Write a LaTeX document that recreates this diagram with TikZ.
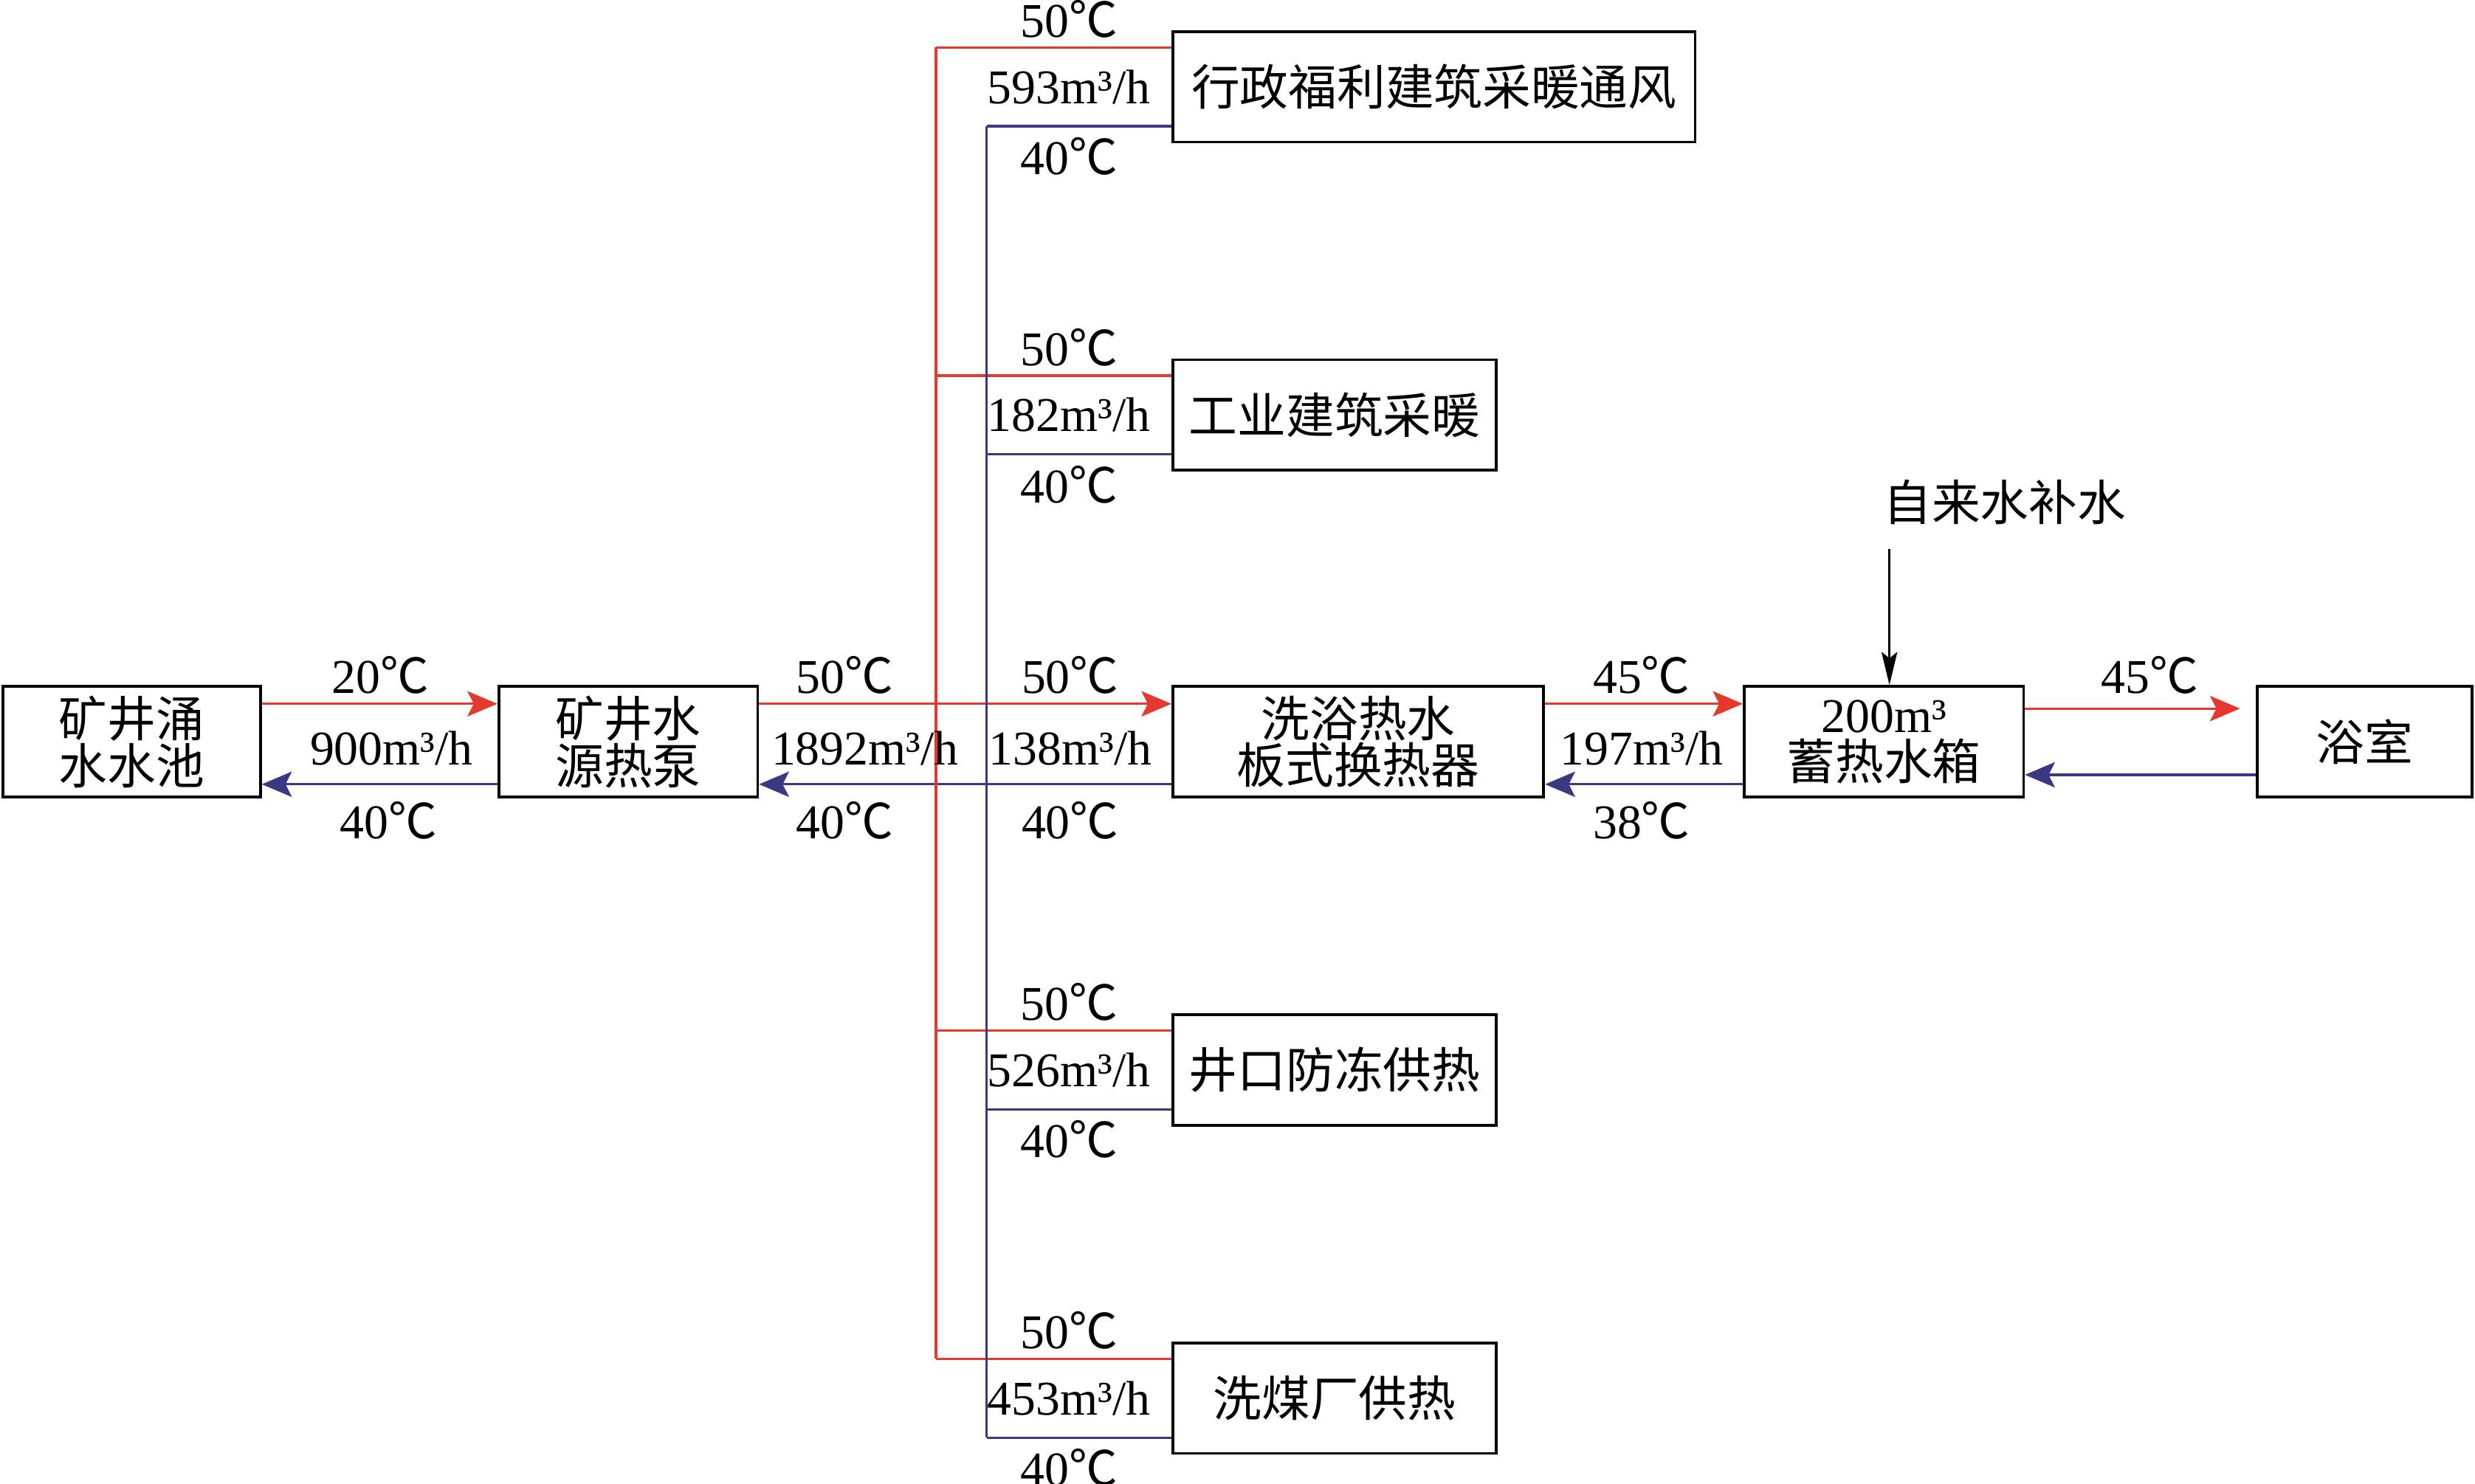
\documentclass[tikz,border=0pt]{standalone}
\usepackage{fontspec}
\setmainfont{Liberation Serif}
\newfontfamily\cjk{Noto Sans CJK SC}
\usetikzlibrary{arrows.meta}
\definecolor{hotred}{RGB}{229,57,47}
\definecolor{coldblue}{RGB}{58,56,128}
\newcommand{\degc}{{\cjk ℃}}

\begin{document}
\begin{tikzpicture}[x=0.02cm,y=-0.02cm,
  box/.style={draw,line width=1pt,inner sep=0pt,minimum height=1.4cm,align=center,
              font=\cjk\fontsize{17.5}{17}\selectfont},
  lbl/.style={inner sep=0pt,font=\fontsize{17.5}{20}\selectfont},
  hot/.style={hotred,line width=0.85pt},
  cold/.style={coldblue,line width=0.85pt},
  flow/.style={-{Stealth[length=0.38cm,width=0.32cm,inset=0.08cm]}}]
  \useasboundingbox (0,0) rectangle (1568,940);
  % boxes
  \node[box,minimum width=3.26cm] (pool)  at (83.5,470)  {矿井涌\\水水池};
  \node[box,minimum width=3.28cm] (pump)  at (398,470)   {矿井水\\源热泵};
  \node[box,minimum width=4.7cm]  (hx)    at (860.5,470) {洗浴热水\\板式换热器};
  \node[box,minimum width=3.54cm] (tank)  at (1193.5,470) {{\rmfamily 200m³}\\蓄热水箱};
  \node[box,minimum width=2.72cm] (bath)  at (1498,470)  {浴室};
  \node[box,minimum width=6.62cm] (admin) at (908.5,55)  {行政福利建筑采暖通风};
  \node[box,minimum width=4.1cm]  (ind)   at (845.5,263) {工业建筑采暖};
  \node[box,minimum width=4.1cm]  (shaft) at (845.5,678) {井口防冻供热};
  \node[box,minimum width=4.1cm]  (coal)  at (845.5,886) {洗煤厂供热};
  \node[lbl] (water) at (1270,318) {\cjk 自来水补水};
  % main supply and return
  \draw[hot,flow]  ([yshift=0.48cm]pool.east)  -- ([yshift=0.48cm]pump.west);
  \draw[cold,flow] ([yshift=-0.54cm]pump.west) -- ([yshift=-0.54cm]pool.east);
  \draw[hot,flow]  ([yshift=0.48cm]pump.east)  -- ([yshift=0.48cm]hx.west);
  \draw[cold,flow] ([yshift=-0.54cm]hx.west)   -- ([yshift=-0.54cm]pump.east);
  \draw[hot,flow]  ([yshift=0.48cm]hx.east)    -- ([yshift=0.48cm]tank.west);
  \draw[cold,flow] ([yshift=-0.54cm]tank.west) -- ([yshift=-0.54cm]hx.east);
  \draw[hot,flow]  ([yshift=0.42cm]tank.east)  -- ([xshift=-0.2cm,yshift=0.42cm]bath.west);
  \draw[cold,flow] ([yshift=-0.42cm]bath.west) -- ([yshift=-0.42cm]tank.east);
  \coordinate (feed) at (1197,348);
  \draw[line width=0.7pt,-{Stealth[length=0.42cm,width=0.2cm,inset=0.08cm]}] (feed) -- (feed |- tank.north);
  % branches
  \coordinate (rx) at (593,470);
  \coordinate (bx) at (625,470);
  \foreach \n/\q in {admin/593,ind/182,shaft/526,coal/453} {
    \coordinate (r\n) at ([yshift=0.5cm]\n.west);
    \coordinate (b\n) at ([yshift=-0.5cm]\n.west);
    \draw[hot]  (r\n) -- (r\n -| rx);
    \draw[cold] (b\n) -- (b\n -| bx);
    \node[lbl] (s\n) at ([xshift=-1.3cm,yshift=0.86cm]\n.west)  {50\degc};
    \node[lbl] (q\n) at ([xshift=-1.3cm]\n.west)                {\q m³/h};
    \node[lbl] (e\n) at ([xshift=-1.3cm,yshift=-0.88cm]\n.west) {40\degc};
  }
  \draw[hot]  (radmin -| rx) -- (rcoal -| rx);
  \draw[cold] (badmin -| bx) -- (bcoal -| bx);
  % labels
  \node[lbl] (t1) at (241,428)  {20\degc};
  \node[lbl] (f1) at (248,474)  {900m³/h};
  \node[lbl] (r1) at (246,520)  {40\degc};
  \node[lbl] (t2) at (535,428)  {50\degc};
  \node[lbl] (f2) at (548,474)  {1892m³/h};
  \node[lbl] (r2) at (535,520)  {40\degc};
  \node[lbl] (t3) at (678,428)  {50\degc};
  \node[lbl] (f3) at (678,474)  {138m³/h};
  \node[lbl] (r3) at (678,520)  {40\degc};
  \node[lbl] (t4) at (1040,428) {45\degc};
  \node[lbl] (f4) at (1040,474) {197m³/h};
  \node[lbl] (r4) at (1040,520) {38\degc};
  \node[lbl] (t5) at (1362,428) {45\degc};
\end{tikzpicture}
\end{document}
